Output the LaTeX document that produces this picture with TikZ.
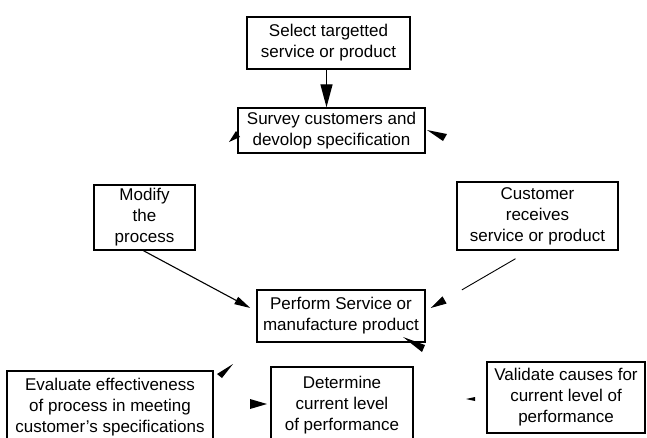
\documentclass[tikz,border=0pt]{standalone}
\usepackage{fontspec}
\setmainfont{Liberation Sans}
\usetikzlibrary{arrows.meta,calc}
\begin{document}
\begin{tikzpicture}[x=1pt,y=-1pt,
  box/.style={draw,line width=1.4pt,align=center,inner sep=0pt,font=\fontsize{17}{21}\selectfont},
  conn/.style={line width=1.1pt,-{Triangle[length=16pt,width=8pt]}},
  bigconn/.style={line width=1.3pt,-{Triangle[length=23pt,width=12pt]}},
  head/.style={fill=black}]
\clip (0,0) rectangle (647,437);
\node[box,minimum width=163pt,minimum height=52pt] (sel) at (328.5,43) {Select targetted\\service or product};
\node[box,minimum width=187pt,minimum height=45pt] (sur) at (331.5,130.5) {Survey customers and\\devolop specification};
\node[box,minimum width=101pt,minimum height=65pt] (mod) at (144.5,217.5) {Modify\\the\\process};
\node[box,minimum width=161pt,minimum height=68pt] (cus) at (537.5,216) {Customer\\receives\\service or product};
\node[box,minimum width=168pt,minimum height=52pt] (per) at (341,316) {Perform Service or\\manufacture product};
\node[box,minimum width=206pt,minimum height=72pt] (eva) at (110,407) {Evaluate effectiveness\\of process in meeting\\customer's specifications};
\node[box,minimum width=142pt,minimum height=76pt] (det) at (342,405) {Determine\\current level\\of performance};
\node[box,minimum width=158pt,minimum height=71pt] (val) at (566,397.5) {Validate causes for\\current level of\\performance};
% connectors
\draw[bigconn] ([xshift=-2pt]sel.south) -- ([xshift=-2pt]sel.south |- sur.north);
\draw[conn] ($(mod.south)+(-1,0)$) -- ($(per.west)+(-6,-8)$);
\draw[conn,line width=0.9pt,dash pattern=on 62pt off 40pt] ($(cus.south)+(-22,8)$) -- ($(per.east)+(5,-8)$);
% loose arrowheads
\fill[head] (229,142) -- (236,131) -- (240,137) -- cycle;
\fill[head] (427,130) -- (447,134) -- (443,141) -- cycle;
\fill[head] (403,337) -- (425,345) -- (422,352) -- cycle;
\fill[head] (233,364) -- (217,374) -- (222,378) -- cycle;
\fill[head] (267,404) -- (250,399) -- (250,409) -- cycle;
\fill[head] (466,399) -- (475,397) -- (475,401) -- cycle;
\end{tikzpicture}
\end{document}
